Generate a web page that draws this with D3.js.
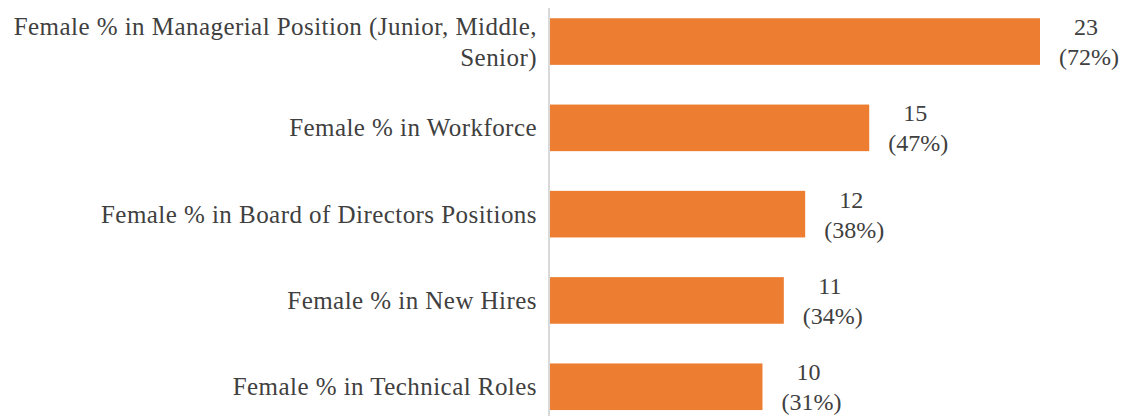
<!DOCTYPE html>
<html lang="en">
<head>
  <meta charset="UTF-8">
  <script src="https://d3js.org/d3.v7.min.js"></script>
  <style>
    body { margin: 0; background: #fff; }
    text { font-family: "Palatino Linotype", "Book Antiqua", Palatino, "Liberation Serif", serif; fill: #404040; }
  </style>
  <title>Female representation</title>
</head>
<body>
  <div id="chart"></div>
  <script>
    // categories, top to bottom
    var categories = [
      ["Female % in Managerial Position (Junior, Middle,", "Senior)"],
      ["Female % in Workforce"],
      ["Female % in Board of Directors Positions"],
      ["Female % in New Hires"],
      ["Female % in Technical Roles"]
    ];
    var counts = [23, 15, 12, 11, 10];
    var shares = ["72%", "47%", "38%", "34%", "31%"];

    var width = 1127, height = 416;
    var x0 = 549;

    var svg = d3.select("#chart").append("svg")
      .attr("width", width)
      .attr("height", height);

    var xScale = d3.scaleLinear().domain([0, 23]).range([x0, 1040]);
    var yScale = d3.scaleBand()
      .domain(d3.range(counts.length))
      .range([-1.6, 429.9])
      .paddingInner(0.46)
      .paddingOuter(0.23);

    // bars
    svg.selectAll(".bar")
      .data(counts)
      .enter().append("rect")
      .attr("class", "bar")
      .attr("x", xScale(0) + 1)
      .attr("y", function(d, i) { return yScale(i); })
      .attr("width", function(d) { return xScale(d) - xScale(0) - 1; })
      .attr("height", yScale.bandwidth())
      .attr("fill", "#ED7D31");

    // vertical axis line
    svg.append("line")
      .attr("x1", x0).attr("x2", x0)
      .attr("y1", 8).attr("y2", height)
      .attr("stroke", "#D9D9D9")
      .attr("stroke-width", 2);

    // category labels
    svg.selectAll(".cat")
      .data(categories)
      .enter().append("text")
      .attr("class", "cat")
      .attr("text-anchor", "end")
      .attr("font-size", 25)
      .attr("letter-spacing", 0.45)
      .each(function(lines, i) {
        var cy = yScale(i) + yScale.bandwidth() / 2;
        var top = cy + 8.5 - (lines.length - 1) * 15.5;
        d3.select(this).selectAll("tspan")
          .data(lines)
          .enter().append("tspan")
          .attr("x", 537)
          .attr("y", function(t, j) { return top + j * 31; })
          .text(function(t) { return t; });
      });

    // value labels
    svg.selectAll(".val")
      .data(counts)
      .enter().append("text")
      .attr("class", "val")
      .attr("text-anchor", "middle")
      .attr("font-size", 24)
      .each(function(d, i) {
        var cy = yScale(i) + yScale.bandwidth() / 2;
        var cx = xScale(d) + 48;
        var t = d3.select(this);
        t.append("tspan").attr("x", cx - 2).attr("y", cy - 6.5).text(d);
        t.append("tspan").attr("x", cx + 1).attr("y", cy + 23.5).text("(" + shares[i] + ")");
      });
  </script>
</body>
</html>
